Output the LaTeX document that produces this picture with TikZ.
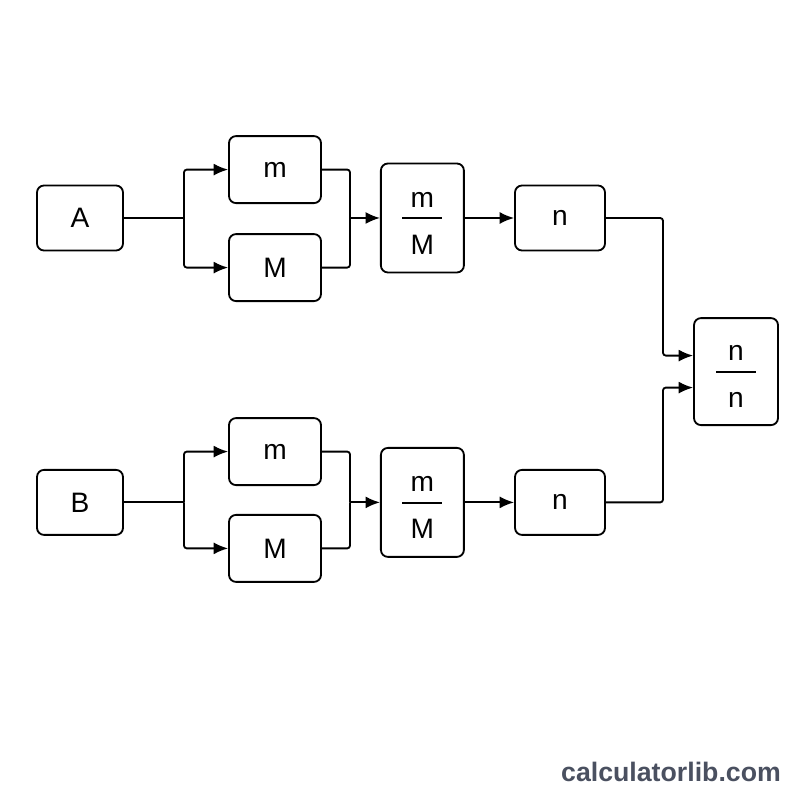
\documentclass[tikz,border=0pt]{standalone}
\usepackage{fontspec}
\setmainfont{Liberation Sans}
\usetikzlibrary{arrows.meta}
\definecolor{wmark}{HTML}{4A5060}
\tikzset{
	blk/.style={draw, line width=1.3pt, rounded corners=5pt, inner sep=0pt, font=\fontsize{20}{24}\selectfont},
	wire/.style={line width=1.3pt, rounded corners=2pt},
	arr/.style={wire, -{Latex[length=0.36cm, width=0.3cm]}}
}
\def\fracbox#1#2{\smash{\raisebox{-9.5pt}{\begin{tabular}{@{}c@{}}#1\\[-15.5pt]\rule{1cm}{1.4pt}\\[1pt]#2\end{tabular}}}}

\begin{document}
\begin{tikzpicture}
			%%%%% START %%%%%
			\useasboundingbox (0, 0) rectangle (20, 20);
			
			% upper chain
			\node[blk, minimum width=2.15cm, minimum height=1.625cm] (A) at (2, 14.55) {A};
			\node[blk, minimum width=2.3cm, minimum height=1.675cm] (mA) at (6.875, 15.76) {m};
			\node[blk, minimum width=2.3cm, minimum height=1.675cm] (MA) at (6.875, 13.31) {M};
			\node[blk, minimum width=2.075cm, minimum height=2.725cm] (fA) at (10.56, 14.55) {\fracbox{m}{M}};
			\node[blk, minimum width=2.25cm, minimum height=1.625cm] (nA) at (14, 14.55) {n};
			
			% lower chain
			\node[blk, minimum width=2.15cm, minimum height=1.625cm] (B) at (2, 7.44) {B};
			\node[blk, minimum width=2.3cm, minimum height=1.675cm] (mB) at (6.875, 8.71) {m};
			\node[blk, minimum width=2.3cm, minimum height=1.675cm] (MB) at (6.875, 6.29) {M};
			\node[blk, minimum width=2.075cm, minimum height=2.725cm] (fB) at (10.56, 7.44) {\fracbox{m}{M}};
			\node[blk, minimum width=2.25cm, minimum height=1.625cm] (nB) at (14, 7.44) {n};
			
			% result
			\node[blk, minimum width=2.1cm, minimum height=2.675cm] (nn) at (18.4, 10.71) {\fracbox{n}{n}};
			
			\coordinate (splitA) at (4.6, 14.55);
			\coordinate (joinA) at (8.75, 14.55);
			\coordinate (splitB) at (4.6, 7.44);
			\coordinate (joinB) at (8.75, 7.44);
			\coordinate (mergeA) at (16.575, 11.11);
			\coordinate (mergeB) at (16.575, 10.31);
			
			\draw[wire] (A) -- (splitA);
			\draw[arr] (splitA) |- (mA);
			\draw[arr] (splitA) |- (MA);
			\draw[wire] (mA) -| (joinA);
			\draw[wire] (MA) -| (joinA);
			\draw[arr] (joinA) -- (fA);
			\draw[arr] (fA) -- (nA);
			
			\draw[wire] (B) -- (splitB);
			\draw[arr] (splitB) |- (mB);
			\draw[arr] (splitB) |- (MB);
			\draw[wire] (mB) -| (joinB);
			\draw[wire] (MB) -| (joinB);
			\draw[arr] (joinB) -- (fB);
			\draw[arr] (fB) -- (nB);
			
			\draw[arr] (nA) -| (mergeA) -- (nn.west |- mergeA);
			\draw[arr] (nB) -| (mergeB) -- (nn.west |- mergeB);
			
			\node[text=wmark, font=\bfseries\fontsize{19}{22}\selectfont] (site) at (16.775, 0.7) {calculatorlib.com};
			%%%%% END %%%%%
\end{tikzpicture}
\end{document}
